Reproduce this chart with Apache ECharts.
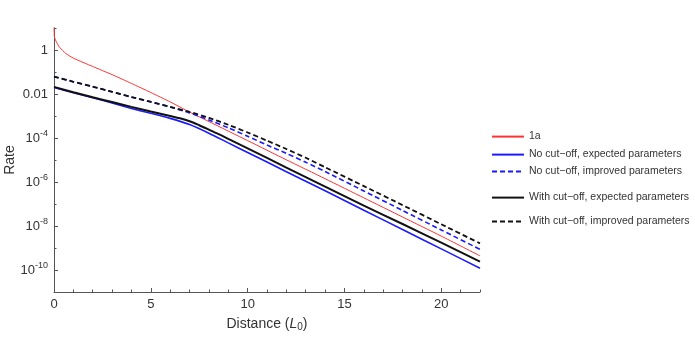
<!DOCTYPE html>
<html>
<head>
<meta charset="utf-8">
<script src="https://cdn.jsdelivr.net/npm/echarts@6/dist/echarts.min.js"></script>
<style>html,body{margin:0;padding:0;background:#fff}#c{width:695px;height:342px}</style>
</head>
<body>
<div id="c"></div>
<script>
// Distances (L0) and rates
const xRed = [0, 0.015, 0.05, 0.1, 0.2, 0.3, 0.6, 1, 2, 3, 4, 5, 6, 7, 8, 10, 12, 14, 16, 18, 20, 22];
const yRed = [20, 4.4, 3.3, 2.57, 1.74, 1.29, 0.71, 0.427, 0.178, 0.0759, 0.0302, 0.0117, 4.37e-3, 1.51e-3, 5.6e-4, 7.6e-5, 1.02e-5, 1.41e-6, 1.91e-7, 2.57e-8, 3.47e-9, 4.4e-10];

const xBlueSolid = [0, 1, 2, 3, 4, 5, 6, 7, 8, 9, 10, 12, 14, 16, 18, 20, 22];
const yBlueSolid = [2.0e-2, 1.15e-2, 6.8e-3, 3.9e-3, 2.2e-3, 1.32e-3, 7.8e-4, 4.1e-4, 1.66e-4, 6.0e-5, 2.2e-5, 2.95e-6, 4.0e-7, 5.2e-8, 6.9e-9, 9.1e-10, 1.2e-10];

const xBlueDash = [0, 1, 2, 3, 4, 5, 6, 7, 8, 9, 10, 11, 12, 13, 14, 16, 18, 20, 22];
const yBlueDash = [6.2e-2, 3.6e-2, 2.15e-2, 1.26e-2, 7.3e-3, 4.4e-3, 2.57e-3, 1.38e-3, 6.6e-4, 2.9e-4, 1.2e-4, 4.8e-5, 2.0e-5, 7.9e-6, 3.0e-6, 3.9e-7, 5.1e-8, 6.6e-9, 8.7e-10];

const xBlackSolid = [0, 1, 2, 3, 4, 5, 6, 6.5, 7, 7.5, 8, 8.5, 9, 10, 12, 14, 16, 18, 20, 22];
const yBlackSolid = [2.1e-2, 1.2e-2, 7.1e-3, 4.3e-3, 2.6e-3, 1.6e-3, 1.0e-3, 7.9e-4, 5.8e-4, 3.8e-4, 2.4e-4, 1.5e-4, 9.1e-5, 3.4e-5, 4.5e-6, 6.2e-7, 8.5e-8, 1.23e-8, 1.74e-9, 2.4e-10];

const xBlackDash = [0, 1, 2, 3, 4, 5, 6, 7, 8, 9, 10, 11, 12, 13, 14, 16, 18, 20, 22];
const yBlackDash = [6.2e-2, 3.6e-2, 2.15e-2, 1.26e-2, 7.3e-3, 4.4e-3, 2.6e-3, 1.55e-3, 8.3e-4, 4.0e-4, 1.78e-4, 7.6e-5, 3.16e-5, 1.26e-5, 4.7e-6, 6.5e-7, 8.9e-8, 1.2e-8, 1.62e-9];

const xTickLabels = [0, 5, 10, 15, 20];
const xMinorTicks = [0,1,2,3,4,5,6,7,8,9,10,11,12,13,14,15,16,17,18,19,20,21,22];
const yTickLabels = [1e-10, 1e-8, 1e-6, 1e-4, 1e-2, 1];
const yMinorTicks = [1e-11, 1e-9, 1e-7, 1e-5, 1e-3, 1e-1, 10];

const names = ['1a', 'No cut\u2212off, expected parameters', 'No cut\u2212off, improved parameters',
  'With cut\u2212off, expected parameters', 'With cut\u2212off, improved parameters'];
const legendTops = [126, 144, 161, 187, 211];

const zip = (xs, ys) => xs.map((x, i) => [x, ys[i]]);
const FONT = '"Liberation Sans", Arial, sans-serif';
const axisCol = '#555';

function yLabel(v) {
  const e = Math.round(Math.log10(v));
  if (e === 0) return '{n|1}';
  if (e === -2) return '{n|0.01}';
  return '{n|10}{s|' + e + '}';
}

const chart = echarts.init(document.getElementById('c'), null, {renderer: 'canvas'});
chart.setOption({
  animation: false,
  textStyle: {fontFamily: FONT},
  grid: {left: 54, top: 28, width: 426, height: 264, containLabel: false, outerBoundsMode: 'none'},
  legend: names.map((n, i) => ({
    data: [n], left: 486, top: legendTops[i], orient: 'vertical',
    itemWidth: 32, itemHeight: 14, itemGap: 0,
    itemStyle: {opacity: 0},
    textStyle: {fontSize: 10.5, color: '#333', fontFamily: FONT}
  })),
  xAxis: [{
    type: 'value', min: 0, max: 22,
    name: 'Distance ({i|L}{sub|0})', nameLocation: 'middle', nameGap: 24, nameMoveOverlap: false,
    nameTextStyle: {fontSize: 14, color: '#333', fontFamily: FONT,
      rich: {i: {fontSize: 14, fontStyle: 'italic', color: '#333', fontFamily: FONT},
             sub: {fontSize: 10, color: '#333', fontFamily: FONT, padding: [6,0,0,0]}}},
    axisLine: {show: true, lineStyle: {color: axisCol, width: 1}},
    axisTick: {show: true, inside: true, length: 4, customValues: xTickLabels, lineStyle: {color: axisCol}},
    axisLabel: {customValues: xTickLabels, fontSize: 13, color: '#333', margin: 6},
    splitLine: {show: false}
  }, {
    type: 'value', min: 0, max: 22, position: 'bottom',
    axisLine: {show: false},
    axisTick: {show: true, inside: true, length: 2.5, customValues: xMinorTicks, lineStyle: {color: axisCol}},
    axisLabel: {show: false}, splitLine: {show: false}
  }],
  yAxis: [{
    type: 'log', logBase: 10, min: 1e-11, max: 10,
    name: 'Rate', nameLocation: 'middle', nameGap: 37, nameMoveOverlap: false,
    nameTextStyle: {fontSize: 14, color: '#333', fontFamily: FONT},
    axisLine: {show: true, lineStyle: {color: axisCol, width: 1}},
    axisTick: {show: true, inside: true, length: 4, customValues: yTickLabels, lineStyle: {color: axisCol}},
    axisLabel: {customValues: yTickLabels, formatter: yLabel, margin: 6, color: '#333',
      rich: {n: {fontSize: 13, color: '#333', fontFamily: FONT},
             s: {fontSize: 9, color: '#333', fontFamily: FONT, padding: [0,0,8,0]}}},
    splitLine: {show: false}
  }, {
    type: 'log', logBase: 10, min: 1e-11, max: 10, position: 'left',
    axisLine: {show: false},
    axisTick: {show: true, inside: true, length: 2.5, customValues: yMinorTicks, lineStyle: {color: axisCol}},
    axisLabel: {show: false}, splitLine: {show: false}
  }],
  series: [
    {name: names[0], type: 'line', data: zip(xRed, yRed), symbol: 'none', smooth: 0.2,
     lineStyle: {color: '#ff3333', width: 1}, itemStyle: {color: '#ff3333'}},
    {name: names[1], type: 'line', data: zip(xBlueSolid, yBlueSolid), symbol: 'none', smooth: 0.2,
     lineStyle: {color: '#1a1aff', width: 1.6}, itemStyle: {color: '#1a1aff'}},
    {name: names[2], type: 'line', data: zip(xBlueDash, yBlueDash), symbol: 'none', smooth: 0.2,
     lineStyle: {color: '#1a1aff', width: 1.6, type: [5, 3]}, itemStyle: {color: '#1a1aff'}},
    {name: names[3], type: 'line', data: zip(xBlackSolid, yBlackSolid), symbol: 'none', smooth: 0.3,
     lineStyle: {color: '#111', width: 2}, itemStyle: {color: '#111'}},
    {name: names[4], type: 'line', data: zip(xBlackDash, yBlackDash), symbol: 'none', smooth: 0.2,
     lineStyle: {color: '#111', width: 1.8, type: [5, 3]}, itemStyle: {color: '#111'}}
  ]
});
</script>
</body>
</html>
